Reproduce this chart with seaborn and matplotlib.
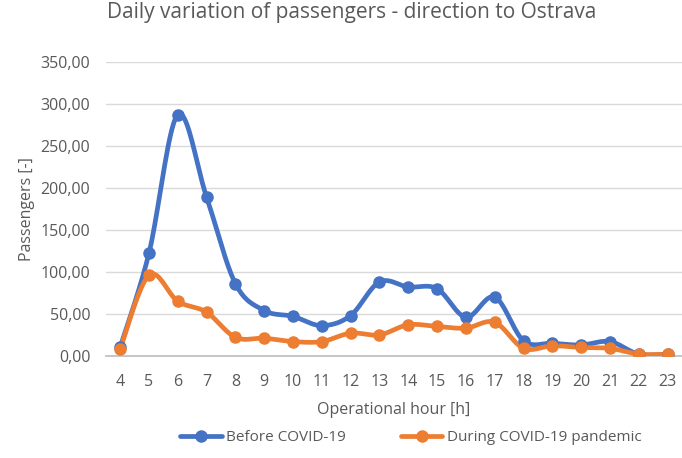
import matplotlib
matplotlib.use("Agg")
import matplotlib.pyplot as plt
import numpy as np
import pandas as pd
import seaborn as sns
from matplotlib.ticker import FuncFormatter

# Values
hours = [4, 5, 6, 7, 8, 9, 10, 11, 12, 13, 14, 15, 16, 17, 18, 19, 20, 21, 22, 23]
before_covid = [10, 122, 287, 189, 86, 54, 47, 36, 48, 88, 82, 80, 46, 70, 18, 15, 13, 17, 2, 2]
during_covid = [8, 96, 65, 52, 22, 21, 17, 17, 27, 25, 37, 35, 33, 40, 9, 12, 10, 9, 2, 2]

BLUE = "#4472C4"
ORANGE = "#ED7D31"
GREY = "#595959"

sns.set_theme(style="white")
plt.rcParams["font.family"] = ["Open Sans", "DejaVu Sans"]


def _smooth(x, y, n=20):
    """Catmull-Rom style smoothing, similar to the spreadsheet smoothed line"""
    x = np.asarray(x, float)
    y = np.asarray(y, float)
    px = np.concatenate([[x[0]], x, [x[-1]]])
    py = np.concatenate([[y[0]], y, [y[-1]]])
    xs, ys = [], []
    t = np.linspace(0, 1, n, endpoint=False)
    for i in range(1, len(px) - 2):
        p0, p1, p2, p3 = py[i - 1], py[i], py[i + 1], py[i + 2]
        q0, q1, q2, q3 = px[i - 1], px[i], px[i + 1], px[i + 2]
        # bezier control points (tension 1/6)
        c1y = p1 + (p2 - p0) / 6
        c2y = p2 - (p3 - p1) / 6
        c1x = q1 + (q2 - q0) / 6
        c2x = q2 - (q3 - q1) / 6
        b = lambda a, b1, b2, c: ((1 - t) ** 3 * a + 3 * (1 - t) ** 2 * t * b1
                                  + 3 * (1 - t) * t ** 2 * b2 + t ** 3 * c)
        xs.append(b(q1, c1x, c2x, q2))
        ys.append(b(p1, c1y, c2y, p2))
    xs.append([x[-1]])
    ys.append([y[-1]])
    return np.concatenate(xs), np.concatenate(ys)


fig = plt.figure(figsize=(6.82, 4.58), dpi=100)
# plot area runs right up to the image edge, as in the reference
ax = fig.add_axes([0.155, 0.223, 0.845, 0.642])

for values, color, label in [(before_covid, BLUE, "Before COVID-19"),
                             (during_covid, ORANGE, "During COVID-19 pandemic")]:
    sx, sy = _smooth(hours, values)
    sns.lineplot(x=sx, y=sy, ax=ax, color=color, linewidth=3.4, sort=False, zorder=3)
    ax.plot(hours, values, color=color, linestyle="none", marker="o", markersize=8, zorder=4)
    ax.plot([], [], color=color, linewidth=3.4, marker="o", markersize=8, label=label)

ax.set_xlim(3.5, 23.5)
ax.set_ylim(0, 350)
ax.set_xticks(hours)
ax.set_yticks(range(0, 351, 50))
ax.yaxis.set_major_formatter(FuncFormatter(lambda v, p: "{:.2f}".format(v).replace(".", ",")))
ax.grid(axis="y", color="#D9D9D9", linewidth=1)
ax.set_axisbelow(True)
for s in ["top", "right", "left"]:
    ax.spines[s].set_visible(False)
ax.spines["bottom"].set_color("#BFBFBF")
ax.tick_params(axis="y", colors=GREY, labelsize=11.5, length=0, pad=11)
ax.tick_params(axis="x", colors=GREY, labelsize=11.5, length=0, pad=13)

ax.set_xlabel("Operational hour [h]", color=GREY, fontsize=11.5, labelpad=9)
ax.set_ylabel("Passengers [-]", color=GREY, fontsize=11.5, labelpad=4)
fig.suptitle("Daily variation of passengers - direction to Ostrava", color=GREY,
             fontsize=15, x=0.516, y=0.995)

ax.legend(loc="upper center", bbox_to_anchor=(0.53, -0.205), ncol=2, frameon=False,
          fontsize=11, labelcolor=GREY, handlelength=2.7, columnspacing=3.6, handletextpad=0.3)

fig.savefig("out.png", dpi=100)
